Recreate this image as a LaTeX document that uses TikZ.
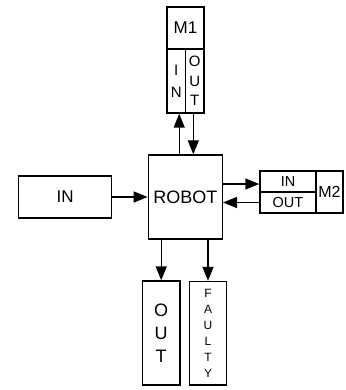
\documentclass[tikz,border=0pt]{standalone}
\usepackage{fontspec}
\setmainfont{Liberation Sans}
\usetikzlibrary{arrows.meta}
\begin{document}
\begin{tikzpicture}[x=1pt,y=-1pt,
  box/.style={draw,line width=1.4pt,inner sep=0pt,align=center},
  arr/.style={line width=1.4pt,-{Triangle[length=14pt,width=11pt]}},
  big/.style={font=\fontsize{17}{20}\selectfont}]
\useasboundingbox (0,0) rectangle (345,390);
\node[box,font=\fontsize{18}{21}\selectfont,minimum width=74pt,minimum height=84pt] (robot) at (185.3,197) {ROBOT};
\node[box,big,minimum width=93pt,minimum height=42pt] (in) at (65.2,197) {IN};
\node[box,big,minimum width=37pt,minimum height=42pt] (m1) at (185.5,28) {M1};
\node[box,minimum width=18.3pt,minimum height=64pt,font=\fontsize{15}{22}\selectfont] (m1in) at (176.2,81) {I\\N};
\node[box,minimum width=18.7pt,minimum height=64pt,font=\fontsize{15}{19.5}\selectfont] (m1out) at (194.7,81) {O\\U\\T};
\node[box,minimum width=56pt,minimum height=21pt,font=\fontsize{14.5}{17}\selectfont] (m2in) at (288,181.5) {IN};
\node[box,minimum width=56pt,minimum height=21pt,font=\fontsize{14.5}{17}\selectfont] (m2out) at (288,202.5) {OUT};
\node[box,font=\fontsize{16}{19}\selectfont,minimum width=27pt,minimum height=42pt] (m2) at (329.5,192) {M2};
\node[box,minimum width=37.7pt,minimum height=104pt,font=\fontsize{18}{23}\selectfont] (out) at (161.2,333) {O\\U\\T};
\node[box,minimum width=37.4pt,minimum height=103.5pt,font=\fontsize{12}{16}\selectfont] (faulty) at (208,333.3) {F\\A\\U\\L\\T\\Y};
\draw[arr] (in) -- (robot);
\draw[arr] ([xshift=3pt]robot.north -| m1in.south) -- ([xshift=3pt]m1in.south);
\draw[arr] ([xshift=-1.4pt]m1out.south) -- ([xshift=-1.4pt]robot.north -| m1out.south);
\draw[arr] ([yshift=-2.5pt]robot.east |- m2in.west) -- ([yshift=-2.5pt]m2in.west);
\draw[arr] (m2out.west) -- (robot.east |- m2out.west);
\draw[arr] (robot.south -| out.north) -- (out.north);
\draw[arr] (robot.south -| faulty.north) -- (faulty.north);
\end{tikzpicture}
\end{document}
